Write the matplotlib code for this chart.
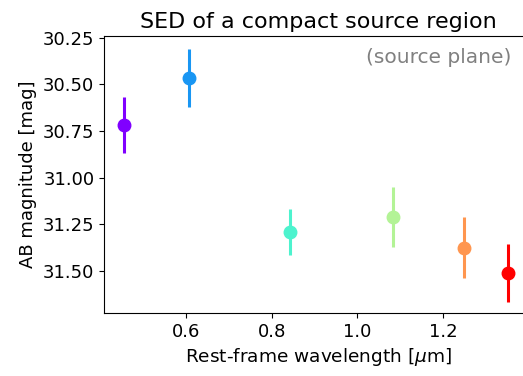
import matplotlib
matplotlib.use("Agg")
import matplotlib.pyplot as plt
import numpy as np

# rest-frame wavelengths [um], AB magnitudes and 1-sigma errors
wave = [0.455, 0.607, 0.842, 1.083, 1.249, 1.352]
mag = [30.715, 30.465, 31.29, 31.21, 31.375, 31.51]
mag_err = [0.15, 0.155, 0.125, 0.16, 0.165, 0.155]

colors = plt.cm.rainbow(np.linspace(0, 1, len(wave)))

fig = plt.figure(figsize=(5.23, 3.76), dpi=100)
ax = fig.add_axes([0.199, 0.1676, 0.82, 0.7367])

for w, m, e, c in zip(wave, mag, mag_err, colors):
    ax.errorbar(w, m, yerr=e, fmt='o', color=c, ms=9, elinewidth=2.2, capsize=0)

ax.set_xlim(0.408, 1.410)
ax.set_ylim(31.725, 30.24)
ax.set_xticks([0.6, 0.8, 1.0, 1.2])
ax.set_yticks([30.25, 30.5, 30.75, 31.0, 31.25, 31.5])
ax.tick_params(labelsize=13)

ax.set_xlabel(r'Rest-frame wavelength [$\mu$m]', fontsize=13.3)
ax.set_ylabel('AB magnitude [mag]', fontsize=13)
ax.set_title('SED of a compact source region', fontsize=16)
ax.text(0.95, 0.955, '(source plane)', transform=ax.transAxes, ha='right', va='top',
        fontsize=14.5, color='gray')

fig.savefig('out.png', dpi=100)
